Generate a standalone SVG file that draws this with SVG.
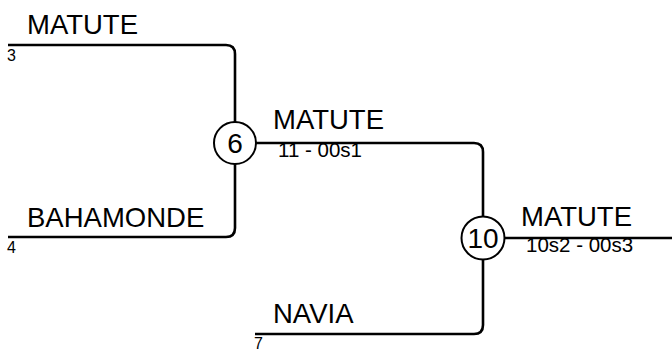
<svg xmlns="http://www.w3.org/2000/svg" width="672" height="357" viewBox="0 0 672 357">
<style>
.ln{fill:none;stroke:#000;stroke-width:2.6}
.c{fill:#fff;stroke:#000;stroke-width:2}
.nm{font-family:"Liberation Sans",Arial,sans-serif;font-size:27.5px;fill:#000}
.sm{font-family:"Liberation Sans",Arial,sans-serif;font-size:16px;fill:#000}
.sc{font-family:"Liberation Sans",Arial,sans-serif;font-size:20.5px;fill:#000}
.num{font-family:"Liberation Sans",Arial,sans-serif;font-size:28px;fill:#000;text-anchor:middle}
</style>
<g id="connectors">
<path class="ln" d="M8,45 H226 Q235,45 235,54 V143"/>
<path class="ln" d="M8,237 H226 Q235,237 235,228 V143"/>
<path class="ln" d="M235,143 H474 Q483,143 483,152 V238"/>
<path class="ln" d="M255,334 H474 Q483,334 483,325 V238"/>
<path class="ln" d="M483,238 H672"/>
</g>
<g id="team3"><text class="nm" x="27" y="34">MATUTE</text><text class="sm" x="7" y="60.5">3</text></g>
<g id="team4"><text class="nm" x="27" y="227">BAHAMONDE</text><text class="sm" x="7" y="253">4</text></g>
<g id="team7"><text class="nm" x="273" y="323">NAVIA</text><text class="sm" x="254" y="349">7</text></g>
<g id="match6"><circle class="c" cx="235" cy="143" r="21"/><text class="num" x="235" y="152.5">6</text><text class="nm" x="273" y="129">MATUTE</text><text class="sc" x="278" y="157">11 - 00s1</text></g>
<g id="match10"><circle class="c" cx="483" cy="238" r="21.5"/><text class="num" x="483" y="248">10</text><text class="nm" x="521" y="226">MATUTE</text><text class="sc" x="526" y="252">10s2 - 00s3</text></g>
</svg>
